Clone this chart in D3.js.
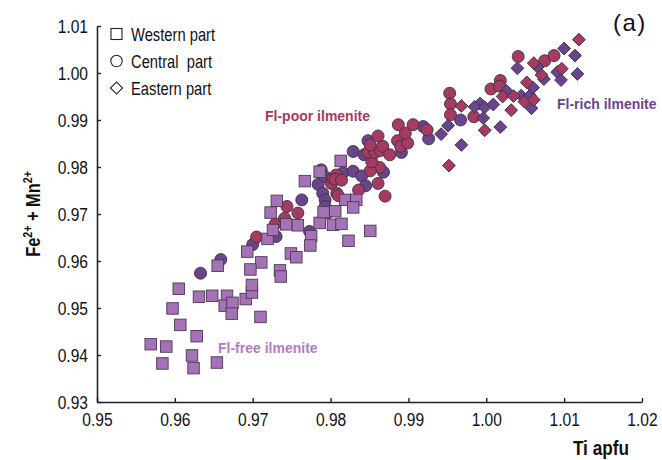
<!DOCTYPE html>
<html>
<head>
<meta charset="utf-8">
<script src="https://cdn.jsdelivr.net/npm/d3@7"></script>
<style>
  html, body { margin: 0; padding: 0; background: #fff; }
  svg { display: block; }
  text { font-family: "Liberation Sans", Arial, sans-serif; }
</style>
</head>
<body>
<svg id="chart" width="662" height="460"></svg>
<script>
// ---------- data ----------
const xTicks = [0.95, 0.96, 0.97, 0.98, 0.99, 1.00, 1.01, 1.02];
const yTicks = [0.93, 0.94, 0.95, 0.96, 0.97, 0.98, 0.99, 1.00, 1.01];

const legendLabels = ["Western part", "Central  part", "Eastern part"];
const groupLabels = ["Fl-poor ilmenite", "Fl-rich ilmenite", "Fl-free ilmenite"];

// Western part (squares, Fl-free)
const westernX = [0.9569,0.9589,0.9584,0.9597,0.9605,0.9607,0.9628,0.9622,0.9624,0.9654,
  0.9631,0.9648,0.9667,0.9664,0.9674,0.9673,0.9691,0.9699,0.9699,0.9710,
  0.9655,0.9693,0.9711,0.9697,0.9735,0.9736,0.9749,0.9756,0.9719,0.9726,
  0.9743,0.9758,0.9723,0.9731,0.9767,0.9786,0.9775,0.9774,0.9786,0.9806,
  0.9791,0.9803,0.9814,0.9819,0.9833,0.9829,0.9851,0.9823,0.9813];
const westernY = [0.9423,0.9418,0.9382,0.9499,0.9541,0.9464,0.9440,0.9399,0.9372,0.9384,
  0.9524,0.9526,0.9526,0.9505,0.9511,0.9488,0.9519,0.9533,0.9549,0.9481,
  0.9590,0.9620,0.9597,0.9582,0.9580,0.9567,0.9616,0.9608,0.9647,0.9666,
  0.9678,0.9676,0.9703,0.9728,0.9770,0.9790,0.9653,0.9633,0.9681,0.9706,
  0.9704,0.9677,0.9679,0.9730,0.9730,0.9714,0.9664,0.9643,0.9813];

// Central part (circles) - Fl-rich (dark purple)
const centralRichX = [0.9633,0.9659,0.9700,0.9730,0.9763,0.9773,0.9788,0.9784,0.9790,0.9793,
  0.9793,0.9816,0.9793,0.9829,0.9840,0.9845,0.9868,0.9829,0.9843,0.9848,
  0.9891,0.9919,0.9926,0.9967];
const centralRichY = [0.9574,0.9603,0.9635,0.9652,0.9730,0.9663,0.9794,0.9763,0.9744,0.9730,
  0.9779,0.9788,0.9716,0.9791,0.9781,0.9760,0.9789,0.9833,0.9826,0.9856,
  0.9831,0.9886,0.9860,0.9900];

// Central part (circles) - Fl-poor (crimson)
const centralPoorX = [0.9705,0.9729,0.9741,0.9744,0.9758,0.9801,0.9803,0.9808,0.9797,0.9807,
  0.9806,0.9814,0.9810,0.9836,0.9861,0.9870,0.9863,0.9851,0.9853,0.9848,
  0.9857,0.9864,0.9851,0.9867,0.9861,0.9876,0.9886,0.9890,0.9899,0.9896,
  0.9887,0.9906,0.9924,0.9953,0.9954,0.9954,0.9984,1.0006,1.0018,1.0017,
  1.0041,1.0075,1.0087];
const centralPoorY = [0.9651,0.9679,0.9691,0.9716,0.9702,0.9765,0.9776,0.9744,0.9703,0.9783,
  0.9774,0.9772,0.9739,0.9751,0.9765,0.9738,0.9799,0.9792,0.9811,0.9831,
  0.9831,0.9835,0.9847,0.9844,0.9866,0.9826,0.9856,0.9844,0.9851,0.9872,
  0.9890,0.9890,0.9879,0.9957,0.9934,0.9911,0.9907,0.9966,0.9984,0.9972,
  1.0035,1.0026,1.0037];

// Eastern part (diamonds) - Fl-rich (dark purple)
const easternRichX = [0.9942,0.9951,0.9968,0.9992,0.9996,0.9985,0.9998,1.0009,1.0018,1.0026,
  1.0045,1.0056,1.0060,1.0058,1.0040,1.0066,1.0074,1.0091,1.0096,1.0117,
  1.0114,1.0100];
const easternRichY = [0.9870,0.9888,0.9847,0.9935,0.9904,0.9928,0.9927,0.9933,0.9885,0.9962,
  0.9952,0.9952,0.9969,0.9925,1.0010,1.0013,0.9987,1.0002,0.9985,0.9998,
  1.0037,1.0052];

// Eastern part (diamonds) - Fl-poor (crimson)
const easternPoorX = [0.9952,0.9968,0.9998,1.0021,1.0035,1.0032,1.0049,1.0052,1.0061,1.0061,
  1.0071,1.0097,1.0119];
const easternPoorY = [0.9803,0.9930,0.9878,0.9950,0.9951,0.9921,0.9939,0.9980,0.9943,1.0021,
  0.9996,1.0009,1.0071];

// ---------- drawing ----------
const svg = d3.select("#chart");
const x = d3.scaleLinear().domain([0.95, 1.02]).range([97, 642]);
const y = d3.scaleLinear().domain([0.93, 1.01]).range([402, 26]);

const colSquare = "#a672b7";
const colRich = "#6a448c";
const colPoor = "#a63a62";
const strokeCol = "#3b3340";
const SX = 0.82; // horizontal condensing to mimic the narrow typeface

const zip = (xs, ys) => xs.map((v, i) => [v, ys[i]]);

// axes
const xAxis = d3.axisBottom(x).tickValues(xTicks).tickFormat(d3.format(".2f"))
  .tickSizeInner(-4).tickSizeOuter(0).tickPadding(11);
const yAxis = d3.axisLeft(y).tickValues(yTicks).tickFormat(d3.format(".2f"))
  .tickSizeInner(-4).tickSizeOuter(0).tickPadding(9);

const gx = svg.append("g").attr("transform", "translate(0,402)").call(xAxis);
const gy = svg.append("g").attr("transform", "translate(97,0)").call(yAxis);
[gx, gy].forEach(g => {
  g.attr("font-family", null).attr("font-size", null);
  g.select(".domain").attr("stroke", "#222").attr("stroke-width", 1.6);
  g.selectAll(".tick line").attr("stroke", "#222").attr("stroke-width", 1.4);
  g.selectAll(".tick text").attr("fill", "#111").style("font-size", "19px")
    .attr("transform", `scale(${SX},1)`);
});
gy.selectAll(".tick text").attr("x", -9 / SX);

// circles (central)
const gC = svg.append("g");
gC.selectAll("circle.rich").data(zip(centralRichX, centralRichY)).join("circle")
  .attr("class", "rich").attr("cx", d => x(d[0])).attr("cy", d => y(d[1])).attr("r", 6)
  .attr("fill", colRich).attr("stroke", strokeCol).attr("stroke-width", 0.9);
gC.selectAll("circle.poor").data(zip(centralPoorX, centralPoorY)).join("circle")
  .attr("class", "poor").attr("cx", d => x(d[0])).attr("cy", d => y(d[1])).attr("r", 6)
  .attr("fill", colPoor).attr("stroke", strokeCol).attr("stroke-width", 0.9);

// squares (western)
const sq = 11.5;
svg.append("g").selectAll("rect").data(zip(westernX, westernY)).join("rect")
  .attr("x", d => x(d[0]) - sq / 2).attr("y", d => y(d[1]) - sq / 2)
  .attr("width", sq).attr("height", sq)
  .attr("fill", colSquare).attr("stroke", "#4a3a50").attr("stroke-width", 0.9);

// diamonds (eastern)
const diamond = d3.symbol().type(d3.symbolSquare).size(82);
const gD = svg.append("g");
gD.selectAll("path.rich").data(zip(easternRichX, easternRichY)).join("path")
  .attr("class", "rich").attr("d", diamond)
  .attr("transform", d => `translate(${x(d[0])},${y(d[1])}) rotate(45)`)
  .attr("fill", colRich).attr("stroke", strokeCol).attr("stroke-width", 0.9);
gD.selectAll("path.poor").data(zip(easternPoorX, easternPoorY)).join("path")
  .attr("class", "poor").attr("d", diamond)
  .attr("transform", d => `translate(${x(d[0])},${y(d[1])}) rotate(45)`)
  .attr("fill", colPoor).attr("stroke", strokeCol).attr("stroke-width", 0.9);

// legend
const lg = svg.append("g");
const legendRows = [34, 61, 88];
lg.append("rect").attr("x", 111).attr("y", legendRows[0] - 5.5).attr("width", 11).attr("height", 11)
  .attr("fill", "none").attr("stroke", "#222").attr("stroke-width", 1.1);
lg.append("circle").attr("cx", 116.5).attr("cy", legendRows[1]).attr("r", 5.7)
  .attr("fill", "none").attr("stroke", "#222").attr("stroke-width", 1.1);
lg.append("path").attr("d", d3.symbol().type(d3.symbolSquare).size(72))
  .attr("transform", `translate(116.5,${legendRows[2]}) rotate(45)`)
  .attr("fill", "none").attr("stroke", "#222").attr("stroke-width", 1.1);
legendLabels.forEach((t, i) => {
  lg.append("text").attr("transform", `translate(131,${legendRows[i] + 6.5}) scale(${SX},1)`)
    .attr("fill", "#111").style("font-size", "18px").style("white-space", "pre")
    .attr("xml:space", "preserve").text(t);
});

// group labels
svg.append("text").attr("x", 265).attr("y", 121).attr("fill", colPoor)
  .style("font-size", "14px").style("font-weight", "bold").text(groupLabels[0]);
svg.append("text").attr("x", 557).attr("y", 109).attr("fill", colRich)
  .style("font-size", "14px").style("font-weight", "bold").text(groupLabels[1]);
svg.append("text").attr("x", 218).attr("y", 352.5).attr("fill", "#b07ec0")
  .style("font-size", "14px").style("font-weight", "bold").text(groupLabels[2]);

// panel tag
svg.append("text").attr("x", 613).attr("y", 31).attr("fill", "#111")
  .style("font-size", "24px").style("letter-spacing", "1.5px").text("(a)");

// axis titles
svg.append("text").attr("transform", `translate(629,455) scale(${SX},1)`).attr("text-anchor", "end")
  .attr("fill", "#111").style("font-size", "21px").style("font-weight", "bold").text("Ti apfu");

const yt = svg.append("text").attr("transform", `translate(40,214) rotate(-90) scale(${SX},1)`)
  .attr("text-anchor", "middle").attr("fill", "#111")
  .style("font-size", "20px").style("font-weight", "bold");
yt.append("tspan").text("Fe");
yt.append("tspan").attr("dy", -8).style("font-size", "13px").text("2+");
yt.append("tspan").attr("dy", 8).text(" + Mn");
yt.append("tspan").attr("dy", -8).style("font-size", "13px").text("2+");
</script>
</body>
</html>
